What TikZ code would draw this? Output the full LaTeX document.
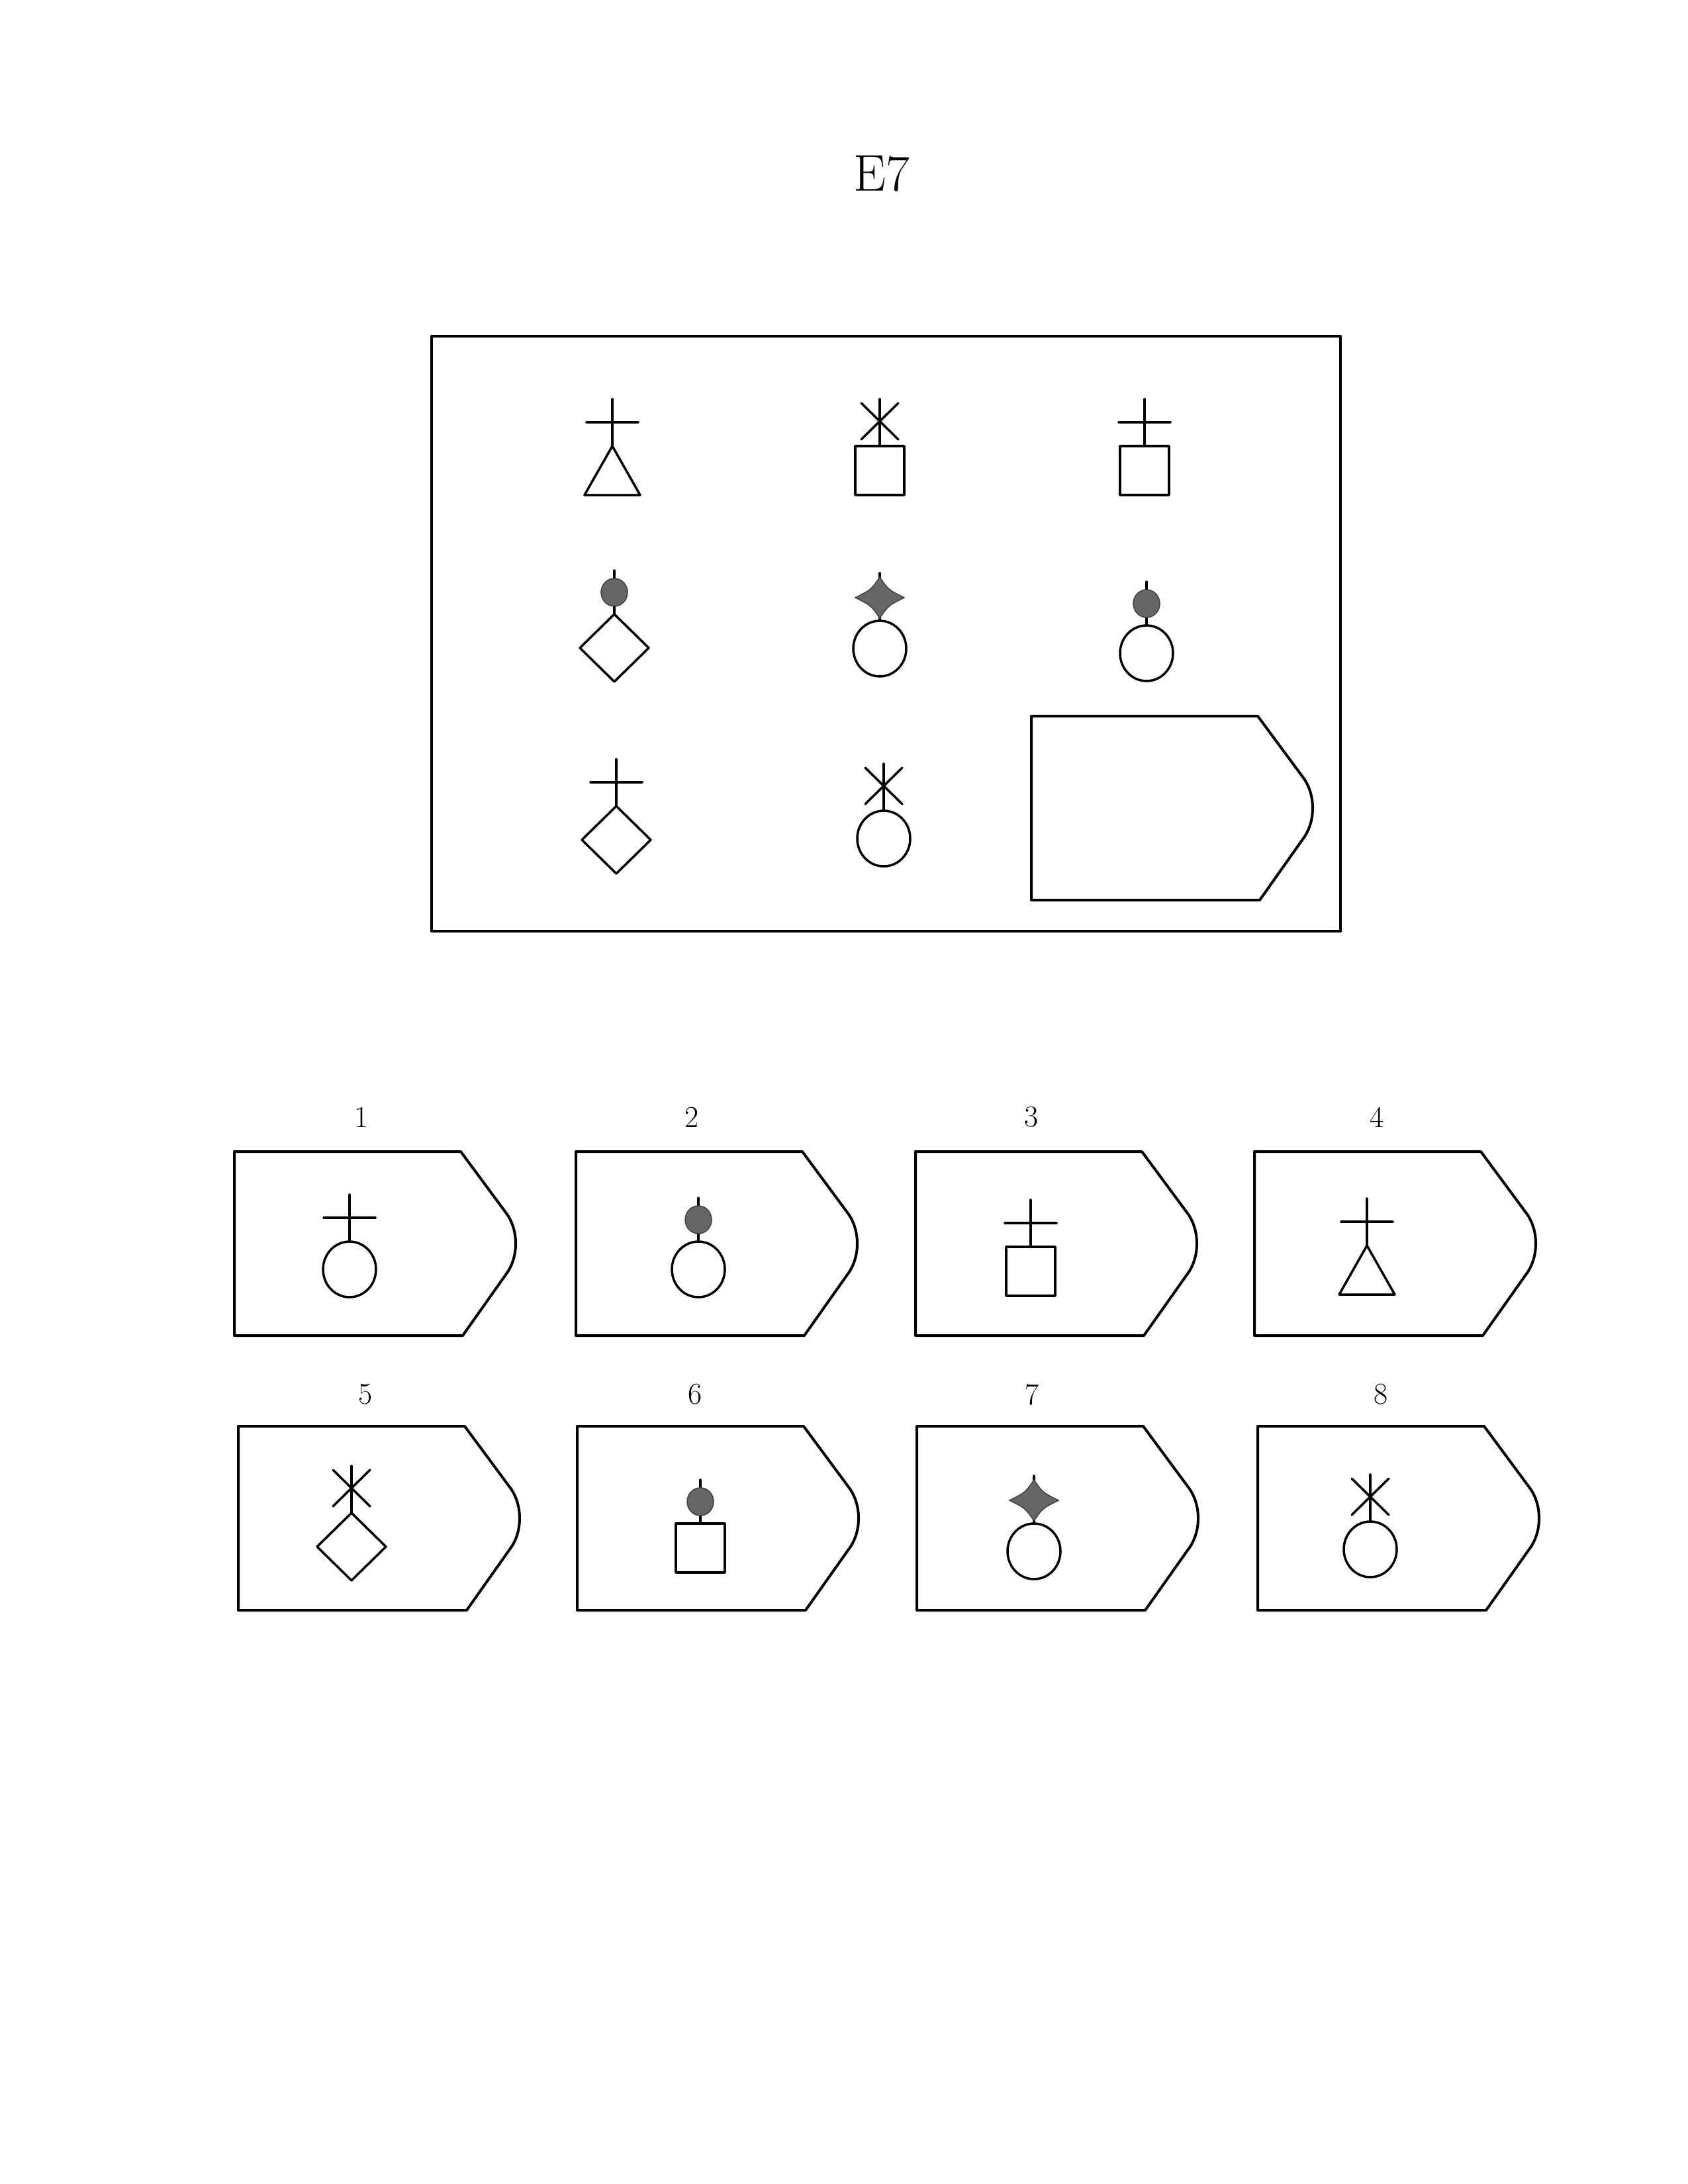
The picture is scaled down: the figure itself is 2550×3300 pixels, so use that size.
\documentclass[tikz,border=0pt]{standalone}
\usetikzlibrary{calc}
\tikzset{
  sym/.style={line width=3.5pt, line cap=round, line join=round},
  boxline/.style={line width=4pt, line join=round},
  dotfill/.style={fill=black!60, draw=black!75, line width=1.5pt},
  lbl/.style={font=\fontsize{46}{50}\selectfont, inner sep=0pt}
}
% top symbols: #1 = x, #2 = y of the top of the shape below
\newcommand{\tCross}[2]{%
  \draw[sym] (#1,#2-71) -- (#1,#2);
  \draw[sym] (#1-39,#2-36) -- (#1+39,#2-36);}
\newcommand{\tAst}[2]{%
  \draw[sym] (#1,#2-71) -- (#1,#2);
  \draw[sym] (#1-28,#2-65) -- (#1+28,#2-10);
  \draw[sym] (#1+28,#2-65) -- (#1-28,#2-10);}
\newcommand{\tDot}[2]{%
  \draw[sym] (#1,#2-66) -- (#1,#2);
  \draw[dotfill] (#1,#2-33) ellipse[x radius=20, y radius=21];}
\newcommand{\tStar}[2]{%
  \draw[sym] (#1,#2-72) -- (#1,#2);
  \draw[dotfill] (#1,#2-66) .. controls (#1+13,#2-47) .. (#1+37,#2-35)
     .. controls (#1+13,#2-23) .. (#1,#2-4)
     .. controls (#1-13,#2-23) .. (#1-37,#2-35)
     .. controls (#1-13,#2-47) .. (#1,#2-66) -- cycle;}
% shapes: #1 = x centre, #2 = top
\newcommand{\sCirc}[2]{\draw[sym] (#1,#2+42) ellipse[x radius=40, y radius=42];}
\newcommand{\sSq}[2]{\draw[sym] (#1-37,#2) rectangle (#1+37,#2+74);}
\newcommand{\sTri}[2]{\draw[sym] (#1,#2) -- (#1+42,#2+74) -- (#1-42,#2+74) -- cycle;}
\newcommand{\sDiam}[2]{\draw[sym] (#1,#2) -- (#1+52,#2+51) -- (#1,#2+102) -- (#1-52,#2+51) -- cycle;}
% answer box: #1 = left, #2 = top
\newcommand{\aBox}[2]{%
  \draw[boxline] (#1,#2) -- (#1+342,#2) -- (#1+410,#2+92)
    .. controls (#1+430,#2+118) and (#1+430,#2+160) .. (#1+410,#2+186)
    -- (#1+345,#2+278) -- (#1,#2+278) -- cycle;}
\begin{document}
\begin{tikzpicture}[x=1pt,y=-1pt]
\useasboundingbox (0,0) rectangle (2550,3300);
\fill[white] (0,0) rectangle (2550,3300);

\node[inner sep=0pt, font=\fontsize{78}{90}\selectfont] (title) at (1332,263) {E7};

% matrix frame
\draw[boxline] (652,508) rectangle (2025,1407);

% row 1
\tCross{925}{674}\sTri{925}{674}
\tAst{1329}{674}\sSq{1329}{674}
\tCross{1729}{674}\sSq{1729}{674}
% row 2
\tDot{928}{928}\sDiam{928}{928}
\tStar{1329}{938}\sCirc{1329}{938}
\tDot{1732}{945}\sCirc{1732}{945}
% row 3
\tCross{931}{1218}\sDiam{931}{1218}
\tAst{1335}{1225}\sCirc{1335}{1225}
\aBox{1558}{1082}

% answer labels
\node[lbl] (l1) at (546,1688) {1};
\node[lbl] (l2) at (1045,1688) {2};
\node[lbl] (l3) at (1558,1688) {3};
\node[lbl] (l4) at (2080,1688) {4};
\node[lbl] (l5) at (552,2107) {5};
\node[lbl] (l6) at (1050,2107) {6};
\node[lbl] (l7) at (1559,2107) {7};
\node[lbl] (l8) at (2086,2107) {8};

% answer boxes
\aBox{354}{1740}
\aBox{870}{1740}
\aBox{1383}{1740}
\aBox{1895}{1740}
\aBox{360}{2155}
\aBox{872}{2155}
\aBox{1385}{2155}
\aBox{1900}{2155}

% answer symbols
\tCross{528}{1876}\sCirc{528}{1876}
\tDot{1055}{1876}\sCirc{1055}{1876}
\tCross{1557}{1884}\sSq{1557}{1884}
\tCross{2065}{1882}\sTri{2065}{1882}
\tAst{531}{2286}\sDiam{531}{2286}
\tDot{1058}{2302}\sSq{1058}{2302}
\tStar{1562}{2302}\sCirc{1562}{2302}
\tAst{2070}{2299}\sCirc{2070}{2299}
\end{tikzpicture}
\end{document}
